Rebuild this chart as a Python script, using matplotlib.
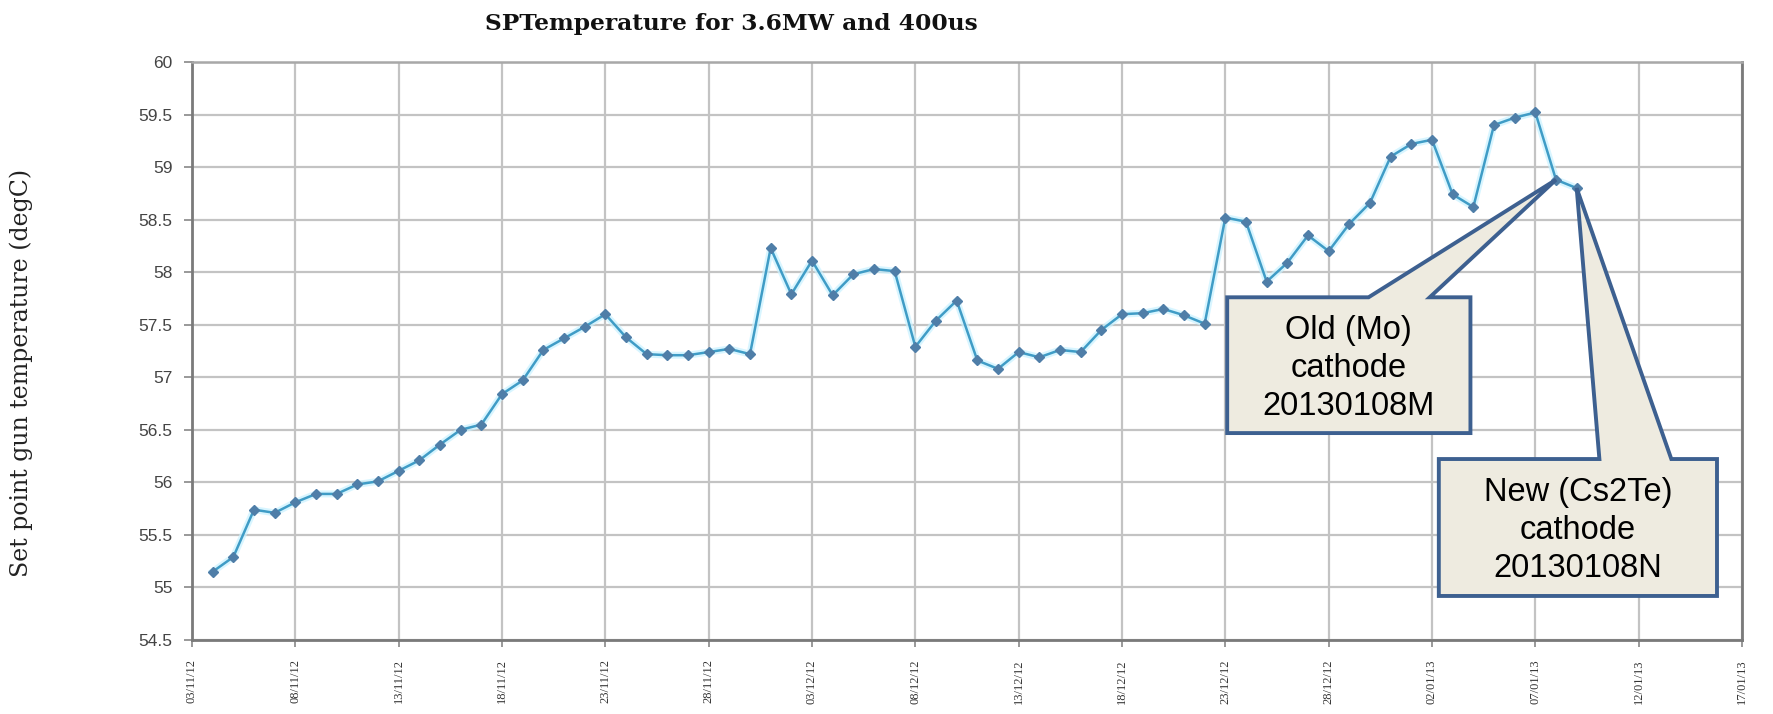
import matplotlib
matplotlib.use("Agg")
import matplotlib.pyplot as plt
from matplotlib.patches import Polygon

# ---------------- data ----------------
temps = [55.15, 55.29, 55.74, 55.71, 55.81, 55.89, 55.89, 55.98, 56.01, 56.11,
         56.21, 56.36, 56.50, 56.55, 56.84, 56.97, 57.26, 57.37, 57.48, 57.60,
         57.38, 57.22, 57.21, 57.21, 57.24, 57.27, 57.22, 58.23, 57.79, 58.11,
         57.78, 57.98, 58.03, 58.01, 57.29, 57.54, 57.73, 57.16, 57.08, 57.24,
         57.19, 57.26, 57.24, 57.45, 57.60, 57.61, 57.65, 57.59, 57.51, 58.52,
         58.48, 57.91, 58.09, 58.35, 58.20, 58.46, 58.66, 59.10, 59.22, 59.26,
         58.74, 58.62, 59.40, 59.47, 59.52, 58.88, 58.80]
days = list(range(1, len(temps) + 1))           # day offset of each sample
tick_days = list(range(0, 80, 5))
tick_labels = ["03/11/12", "08/11/12", "13/11/12", "18/11/12",
               "23/11/12", "28/11/12", "03/12/12", "08/12/12",
               "13/12/12", "18/12/12", "23/12/12", "28/12/12",
               "02/01/13", "07/01/13", "12/01/13", "17/01/13"]
yticks = [54.5, 55, 55.5, 56, 56.5, 57, 57.5, 58, 58.5, 59, 59.5, 60]
ytick_labels = ["54.5", "55", "55.5", "56", "56.5", "57", "57.5", "58",
                "58.5", "59", "59.5", "60"]
title = "SPTemperature for 3.6MW and 400us"
ylabel = "Set point gun temperature (degC)"
old_label = "Old (Mo)\ncathode\n20130108M"
new_label = "New (Cs2Te)\ncathode\n20130108N"
old_idx = 65
new_idx = 66

# ---------------- figure ----------------
W, H = 1774, 714
fig = plt.figure(figsize=(W / 100, H / 100), dpi=100)
ax = fig.add_axes([192 / W, 1 - 640 / H, (1742 - 192) / W, (640 - 62) / H])

ax.set_xlim(0, 75)
ax.set_ylim(54.5, 60)

ax.set_axisbelow(True)
ax.grid(True, color="#c3c3c3", linewidth=1.6)

# glow + line + markers
ax.plot(days, temps, color="#c8f2ff", linewidth=5, alpha=0.7, zorder=2,
        solid_joinstyle="round")
ax.plot(days, temps, color="#3f9cc6", linewidth=1.8, zorder=3,
        marker="D", markersize=5, markerfacecolor="#4f7ea8",
        markeredgecolor="#4f7ea8")

ax.set_xticks(tick_days)
ax.set_xticklabels(tick_labels, rotation=90, va="top", ha="center",
                   family="Liberation Serif", fontsize=9, color="#333333")
ax.set_yticks(yticks)
ax.set_yticklabels(ytick_labels, family="Liberation Sans", fontsize=12.5,
                   color="#444444")
ax.tick_params(axis="y", length=6, width=1.2, color="#888888", pad=8)
ax.tick_params(axis="x", length=5, width=1.2, color="#888888", pad=9)

for side in ["left", "bottom", "right"]:
    ax.spines[side].set_color("#7a7a7a")
    ax.spines[side].set_linewidth(2)
ax.spines["top"].set_color("#a8a8a8")
ax.spines["top"].set_linewidth(1.8)

fig.text(731 / W, 1 - 24 / H, title, family="DejaVu Serif", fontweight="bold",
         fontsize=16.8, ha="center", va="center", color="#111111")
fig.text(21 / W, 1 - 373 / H, ylabel, family="DejaVu Serif", fontsize=17,
         rotation=90, ha="center", va="center", color="#222222")

# ---------------- callouts ----------------
box_face = "#eeebe0"
box_edge = "#3d6090"

x_old, y_old = days[old_idx], temps[old_idx]
old_poly = [(50.09, 57.761), (56.93, 57.761), (x_old, y_old), (59.89, 57.761),
            (61.86, 57.761), (61.86, 56.469), (50.09, 56.469)]
ax.add_patch(Polygon(old_poly, closed=True, facecolor=box_face,
                     edgecolor=box_edge, linewidth=2.8, joinstyle="miter",
                     zorder=5, clip_on=False))
ax.text((50.09 + 61.86) / 2, (57.761 + 56.469) / 2 - 0.03, old_label,
        family="Liberation Sans", fontsize=23.5, ha="center", va="center",
        linespacing=1.3, zorder=6, color="black")

x_new, y_new = days[new_idx], temps[new_idx]
new_poly = [(60.33, 56.222), (68.1, 56.222), (x_new, y_new), (71.58, 56.222),
            (73.79, 56.222), (73.79, 54.919), (60.33, 54.919)]
ax.add_patch(Polygon(new_poly, closed=True, facecolor=box_face,
                     edgecolor=box_edge, linewidth=2.8, joinstyle="miter",
                     zorder=5, clip_on=False))
ax.text((60.33 + 73.79) / 2, (56.222 + 54.919) / 2 - 0.03, new_label,
        family="Liberation Sans", fontsize=23.5, ha="center", va="center",
        linespacing=1.3, zorder=6, color="black")

fig.savefig("out.png", dpi=100, facecolor="white")
